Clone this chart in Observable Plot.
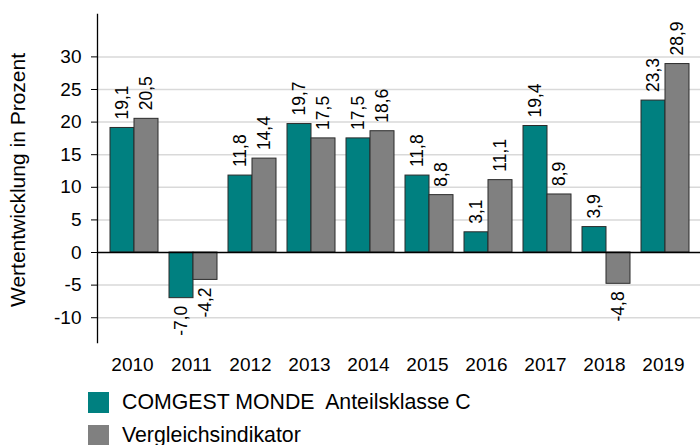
<!DOCTYPE html>
<html>
<head>
<meta charset="utf-8">
<script src="https://cdn.jsdelivr.net/npm/d3@7"></script>
<script src="https://cdn.jsdelivr.net/npm/@observablehq/plot@0.6"></script>
<style>
  html, body { margin: 0; padding: 0; background: #fff; }
  body { width: 700px; height: 445px; overflow: hidden; font-family: "Liberation Sans", Arial, sans-serif; }
  #legend { margin-left: 88px; margin-top: 12px; font-size: 21.3px; color: #000; }
  #legend .row { display: flex; align-items: center; height: 21px; margin-bottom: 12px; white-space: pre; }
  #legend .sw { width: 21px; height: 21px; margin-right: 13px; flex: none; }
</style>
</head>
<body>
<div id="chart"></div>
<div id="legend"></div>
<script>
const years = ["2010","2011","2012","2013","2014","2015","2016","2017","2018","2019"];
const fundValues  = [19.1, -7.0, 11.8, 19.7, 17.5, 11.8, 3.1, 19.4, 3.9, 23.3];
const indexValues = [20.5, -4.2, 14.4, 17.5, 18.6, 8.8, 11.1, 8.9, -4.8, 28.9];
const seriesNames = ["COMGEST MONDE  Anteilsklasse C", "Vergleichsindikator"];
const seriesColors = ["#008080", "#808080"];
const yTicks = [-10, -5, 0, 5, 10, 15, 20, 25, 30];
const yTitle = "Wertentwicklung in Prozent";

const W = 700, H = 380, mL = 97, mR = 0, mT = 14, mB = 38, pad = 0.194;
const xRange = [95.5, 702.5];
const bw = d3.scaleBand().domain(years).range(xRange).padding(pad).bandwidth();

const fund = years.map((y, i) => ({year: y, value: fundValues[i], series: seriesNames[0]}));
const index = years.map((y, i) => ({year: y, value: indexValues[i], series: seriesNames[1]}));
const fmt = v => v.toFixed(1).replace(".", ",");

function labels(data, dx) {
  return [
    Plot.text(data.filter(d => d.value >= 0), {x: "year", y: "value", text: d => fmt(d.value), rotate: -90, textAnchor: "start", dx, dy: -8.5, fontSize: 17.5, fill: "#000"}),
    Plot.text(data.filter(d => d.value < 0), {x: "year", y: "value", text: d => fmt(d.value), rotate: -90, textAnchor: "end", dx, dy: 7.5, fontSize: 17.5, fill: "#000"})
  ];
}

const plot = Plot.plot({
  width: W, height: H,
  marginLeft: mL, marginRight: mR, marginTop: mT, marginBottom: mB,
  style: {fontFamily: "'Liberation Sans', Arial, sans-serif", fontSize: "19px", color: "#000", background: "#fff", overflow: "visible"},
  x: {domain: years, range: xRange, padding: pad, label: null},
  y: {domain: [-13.8, 36.5], label: null},
  marks: [
    Plot.ruleY(yTicks.filter(d => d !== 0), {stroke: "#d9d9d9", strokeWidth: 1.5}),
    Plot.barY(fund, {x: "year", y: "value", fill: seriesColors[0], stroke: "#2b2b2b", strokeWidth: 1, insetLeft: 0, insetRight: bw / 2}),
    Plot.barY(index, {x: "year", y: "value", fill: seriesColors[1], stroke: "#2b2b2b", strokeWidth: 1, insetLeft: bw / 2, insetRight: 0}),
    Plot.ruleY([0], {stroke: "#000", strokeWidth: 1.3}),
    Plot.frame({anchor: "left", stroke: "#000", strokeWidth: 1.3}),
    Plot.axisX({tickSize: 0, tickPadding: 15, dx: -2, fontSize: 19, label: null}),
    Plot.axisY({ticks: yTicks, tickFormat: d => String(d), tickSize: 6, tickPadding: 10, fontSize: 19, label: null}),
    ...labels(fund, -bw / 4),
    ...labels(index, bw / 4),
    Plot.text([yTitle], {frameAnchor: "left", textAnchor: "middle", rotate: -90, dx: -79, dy: 1.5, fontSize: 21, fill: "#000", text: d => d})
  ]
});
document.getElementById("chart").appendChild(plot);

const legend = document.getElementById("legend");
seriesNames.forEach((name, i) => {
  const row = document.createElement("div");
  row.className = "row";
  const sw = document.createElement("span");
  sw.className = "sw";
  sw.style.background = seriesColors[i];
  row.appendChild(sw);
  row.appendChild(document.createTextNode(name));
  legend.appendChild(row);
});
</script>
</body>
</html>
